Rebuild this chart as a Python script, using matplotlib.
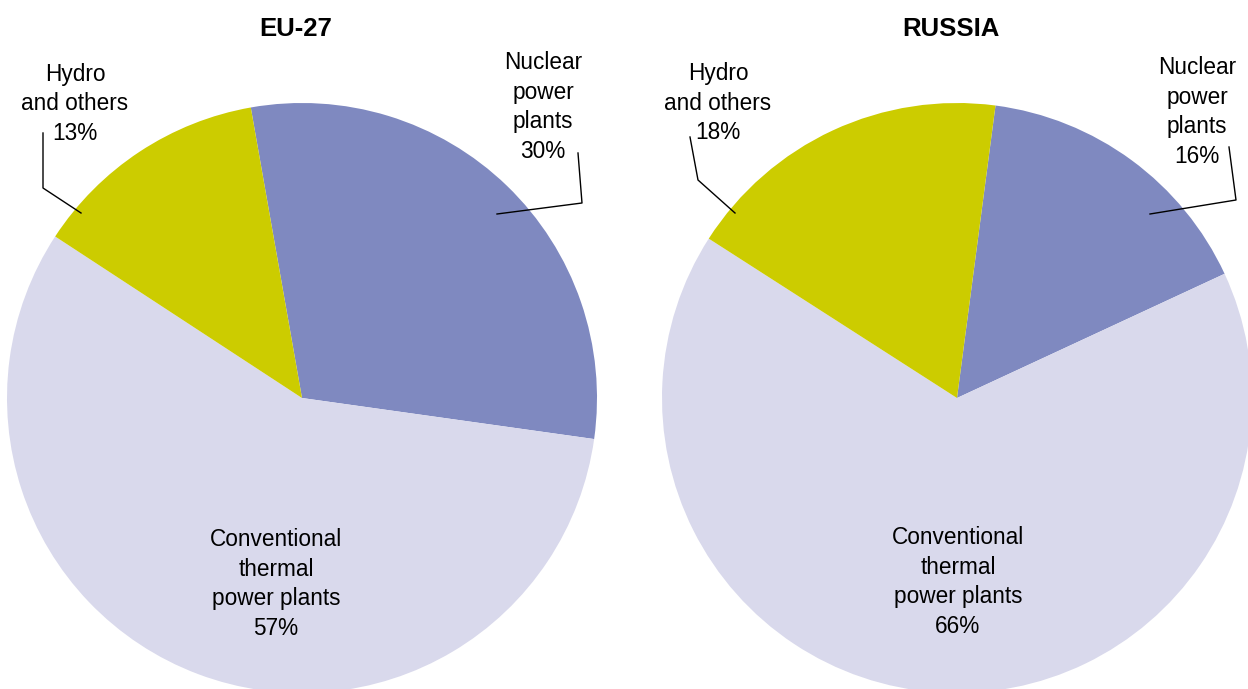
import matplotlib.pyplot as plt

# shares of electricity generation (%)
categories = ["Nuclear\npower\nplants", "Conventional\nthermal\npower plants", "Hydro\nand others"]
eu27 = [30, 57, 13]
russia = [16, 66, 18]
colours = ["#7F89C0", "#D9D9EC", "#CCCC00"]

W, H = 1248, 689
plt.rcParams['font.family'] = ['Liberation Sans', 'DejaVu Sans']

fig = plt.figure(figsize=(W / 100, H / 100), dpi=100)
ax = fig.add_axes([0, 0, 1, 1])


def fy(y):
    # pixel row (top = 0) -> data y
    return H - y


def draw_pie(values, cx, cy, r, start, title, title_x, labels):
    ax.pie(values, colors=colours, startangle=start, counterclock=False,
           center=(cx, fy(cy)), radius=r, frame=True,
           wedgeprops=dict(linewidth=0))
    ax.text(title_x, fy(29), title, ha="center", va="center",
            fontsize=18.5, fontweight="bold")
    for txt, (x, y), line in labels:
        ax.text(x, fy(y), txt, ha="center", va="center", fontsize=16.3,
                linespacing=1.36)
        if line:
            ax.plot([p[0] for p in line], [fy(p[1]) for p in line],
                    color="black", lw=1)


eu_labels = [
    (f"{categories[0]}\n{eu27[0]}%", (543, 107), [(578, 153), (582, 203), (497, 214)]),
    (f"{categories[1]}\n{eu27[1]}%", (276, 584), None),
    (f"{categories[2]}\n{eu27[2]}%", (75, 104), [(43, 133), (43, 188), (81, 213)]),
]
ru_labels = [
    (f"{categories[0]}\n{russia[0]}%", (1197, 112), [(1229, 147), (1236, 200), (1150, 214)]),
    (f"{categories[1]}\n{russia[1]}%", (958, 582), None),
    (f"{categories[2]}\n{russia[2]}%", (718, 103), [(690, 137), (698, 180), (735, 213)]),
]

draw_pie(eu27, 302, 398, 295, 100, "EU-27", 296, eu_labels)
draw_pie(russia, 957, 398, 295, 82.5, "RUSSIA", 951, ru_labels)

ax.set_xlim(0, W)
ax.set_ylim(0, H)
ax.set_aspect("auto")
ax.axis("off")

fig.savefig("out.png", dpi=100)
